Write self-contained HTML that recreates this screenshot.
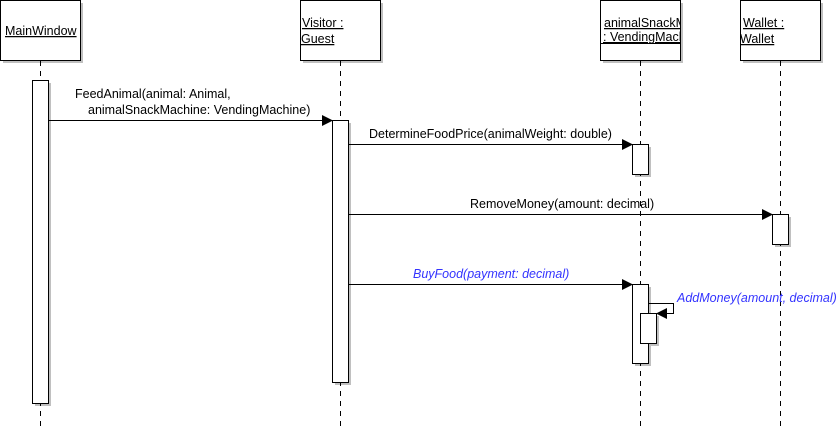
<!DOCTYPE html>
<html><head><style>
html,body{margin:0;padding:0;background:#fff;}
svg{display:block;}
text{font-family:"Liberation Sans",Arial,sans-serif;font-size:12.5px;}
</style></head><body>
<svg width="839" height="428" viewBox="0 0 839 428" xmlns="http://www.w3.org/2000/svg">
<g fill="#c0c0c0">
<rect x="3" y="3" width="80" height="60"/>
<rect x="303" y="3" width="80" height="60"/>
<rect x="603" y="3" width="80" height="60"/>
<rect x="743" y="3" width="80" height="60"/>
<rect x="35" y="83" width="16" height="323"/>
<rect x="335" y="123" width="16" height="262"/>
<rect x="635" y="147" width="16" height="30"/>
<rect x="775" y="217" width="16" height="30"/>
<rect x="635" y="287" width="16" height="79"/>
<rect x="643" y="316" width="16" height="30"/>
</g>
<g stroke="#000" stroke-dasharray="5,5" stroke-width="1">
<line x1="40.5" y1="61" x2="40.5" y2="428"/>
<line x1="340.5" y1="61" x2="340.5" y2="428"/>
<line x1="640.5" y1="61" x2="640.5" y2="428"/>
<line x1="780.5" y1="61" x2="780.5" y2="428"/>
</g>
<g fill="#fff" stroke="#000">
<rect x="0.5" y="0.5" width="80" height="60"/>
<rect x="300.5" y="0.5" width="80" height="60"/>
<rect x="600.5" y="0.5" width="80" height="60"/>
<rect x="740.5" y="0.5" width="80" height="60"/>
<rect x="32.5" y="80.5" width="16" height="323"/>
<rect x="332.5" y="120.5" width="16" height="262"/>
<rect x="632.5" y="144.5" width="16" height="30"/>
<rect x="772.5" y="214.5" width="16" height="30"/>
<rect x="632.5" y="284.5" width="16" height="79"/>
</g>
<line x1="600" y1="43.5" x2="681" y2="43.5" stroke="#000"/>
<g fill="#000">
<text x="5" y="35" text-decoration="underline">MainWindow</text>
<text x="302" y="27" text-decoration="underline">Visitor :</text>
<text x="301" y="43" text-decoration="underline">Guest</text>
<text x="743" y="27" text-decoration="underline">Wallet :</text>
<text x="740" y="43" text-decoration="underline">Wallet</text>
</g>
<svg x="601" y="0" width="79" height="60">
<text x="3" y="27" text-decoration="underline">animalSnackMachine</text>
<text x="2" y="41" text-decoration="underline">: VendingMachine</text>
</svg>
<g stroke="#000" fill="none">
<line x1="48" y1="120.5" x2="324" y2="120.5"/>
<line x1="348" y1="144.5" x2="624" y2="144.5"/>
<line x1="348" y1="214.5" x2="764" y2="214.5"/>
<line x1="348" y1="284.5" x2="624" y2="284.5"/>
<polyline points="648,303.5 673.5,303.5 673.5,313.5 664,313.5"/>
</g>
<g fill="#000">
<polygon points="322,115 333,120.5 322,126"/>
<polygon points="622,139 633,144.5 622,150"/>
<polygon points="762,209 773,214.5 762,220"/>
<polygon points="622,279 633,284.5 622,290"/>
<polygon points="667,308 656,313.5 667,319"/>
</g>
<rect x="640.5" y="313.5" width="16" height="30" fill="#fff" stroke="#000"/>
<text x="75" y="98">FeedAnimal(animal: Animal,</text>
<text x="88" y="114">animalSnackMachine: VendingMachine)</text>
<text x="369" y="138">DetermineFoodPrice(animalWeight: double)</text>
<text x="470" y="208">RemoveMoney(amount: decimal)</text>
<text x="413" y="278" fill="#3333ff" font-style="italic">BuyFood(payment: decimal)</text>
<text x="677" y="302" fill="#3333ff" font-style="italic">AddMoney(amount, decimal)</text>
</svg>
</body></html>
